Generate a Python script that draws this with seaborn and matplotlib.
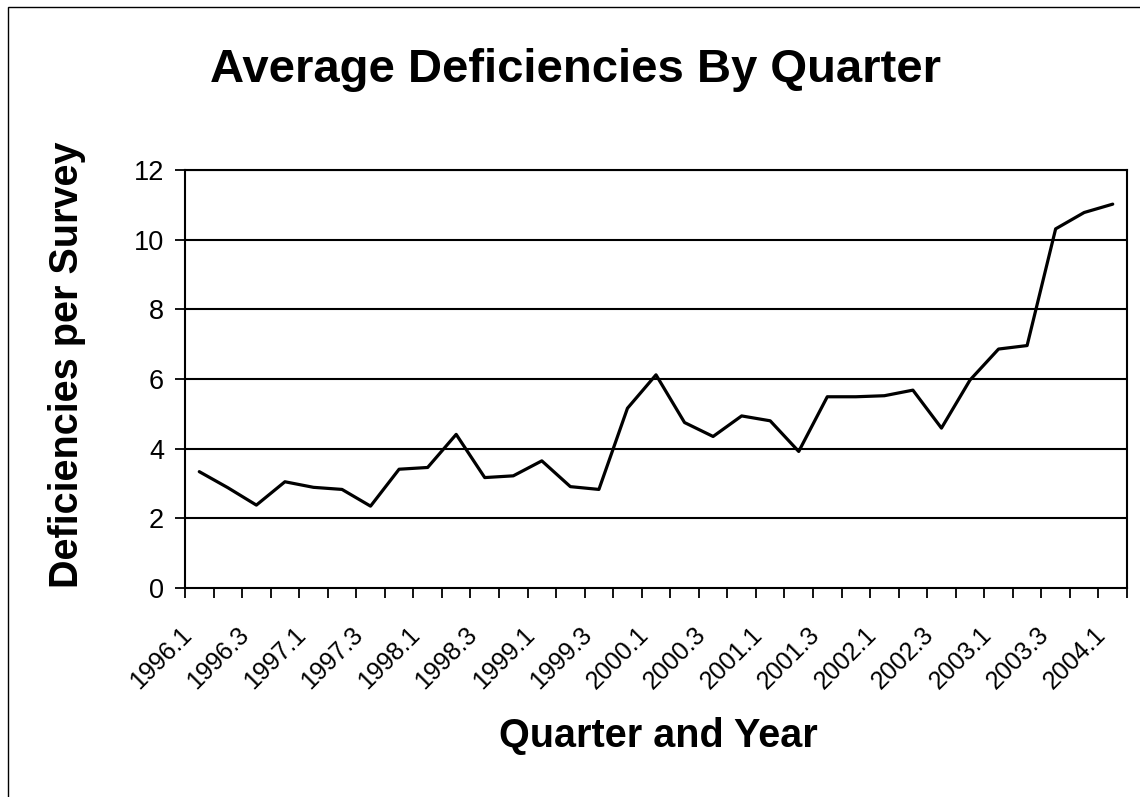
import numpy as np
import pandas as pd
import matplotlib
matplotlib.use("Agg")
import matplotlib.pyplot as plt
from matplotlib.transforms import ScaledTranslation
from matplotlib.patches import Rectangle
import seaborn as sns

# ---- data ----
quarters = [f"{y}.{q}" for y in range(1996, 2005) for q in range(1, 5)][:33]
deficiencies = [3.34, 2.88, 2.38, 3.05, 2.89, 2.83, 2.35, 3.41, 3.46, 4.41,
                3.17, 3.22, 3.65, 2.91, 2.83, 5.16, 6.12, 4.75, 4.35, 4.94,
                4.80, 3.92, 5.49, 5.49, 5.52, 5.68, 4.59, 5.97, 6.86, 6.96,
                10.31, 10.78, 11.02]
y_ticks = [0, 2, 4, 6, 8, 10, 12]
title = "Average Deficiencies By Quarter"
x_label = "Quarter and Year"
y_label = "Deficiencies per Survey"

df = pd.DataFrame({"idx": np.arange(len(quarters)), "quarter": quarters,
                   "value": deficiencies})

sns.set_theme(style="white")
plt.rcParams["font.family"] = ["Liberation Sans", "DejaVu Sans"]

W, H = 1140, 797
fig = plt.figure(figsize=(W / 100, H / 100), dpi=100)
fig.patch.set_facecolor("white")
ax = fig.add_axes([185 / W, 1 - 588 / H, (1127 - 185) / W, (588 - 170) / H])

sns.lineplot(data=df, x="idx", y="value", ax=ax, color="black", linewidth=2.3)

ax.set_xlim(-0.5, len(quarters) - 0.5)
ax.set_ylim(0, 12)
ax.set_yticks(y_ticks)
ax.set_yticklabels([str(v) for v in y_ticks], fontsize=19.5, color="black")
for v in y_ticks[1:]:
    ax.axhline(v, color="black", linewidth=1.5, zorder=1)

# category boundary ticks
ax.set_xticks(np.arange(-0.5, len(quarters), 1.0), minor=True)
ax.set_xticks(np.arange(0, len(quarters), 2))
ax.set_xticklabels(quarters[::2], fontsize=18, color="black")
ax.tick_params(axis="x", which="major", length=0, pad=31)
ax.tick_params(axis="x", which="minor", length=7, width=1.3, color="black",
               direction="out", bottom=True)
ax.tick_params(axis="y", which="major", length=7, width=1.3, color="black",
               direction="out", left=True, pad=8)
off = ScaledTranslation(-11 / 100, 0, fig.dpi_scale_trans)
for lab in ax.get_xticklabels():
    lab.set_rotation(45)
    lab.set_ha("right")
    lab.set_va("center")
    lab.set_rotation_mode("anchor")
    lab.set_transform(lab.get_transform() + off)

for s in ax.spines.values():
    s.set_color("black")
    s.set_linewidth(1.5)
    s.set_visible(True)

ax.set_xlabel("")
ax.set_ylabel("")

fig.text(575 / W, 1 - 82 / H, title, ha="center", va="baseline",
         fontsize=34, fontweight="bold", color="black")
fig.text(658 / W, 1 - 747 / H, x_label, ha="center", va="baseline",
         fontsize=28.5, fontweight="bold", color="black")
fig.text(67 / W, 1 - 365 / H, y_label, ha="center", va="center",
         rotation=90, fontsize=28.5, fontweight="bold", color="black")

fig.patches.append(Rectangle((8 / W, -0.2), 2, 1 - 7 / H + 0.2,
                             transform=fig.transFigure, fill=False,
                             edgecolor="black", linewidth=1.0))

fig.savefig("out.png", dpi=100, facecolor="white")
